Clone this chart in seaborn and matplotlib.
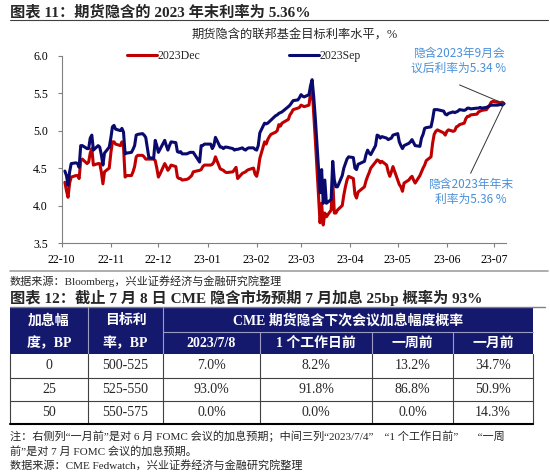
import matplotlib
matplotlib.use('Agg')
import matplotlib.pyplot as plt
import matplotlib.dates as mdates
from matplotlib.patches import Rectangle
import numpy as np
import pandas as pd
import seaborn as sns

# implied fed funds rate from futures (one value per trading day kept)
dates = [
    '2022-10-03', '2022-10-04', '2022-10-05', '2022-10-06', '2022-10-07', '2022-10-10', '2022-10-11',
    '2022-10-12', '2022-10-13', '2022-10-14', '2022-10-17', '2022-10-18', '2022-10-19', '2022-10-20',
    '2022-10-21', '2022-10-24', '2022-10-25', '2022-10-26', '2022-10-27', '2022-10-28', '2022-10-31',
    '2022-11-01', '2022-11-02', '2022-11-03', '2022-11-04', '2022-11-07', '2022-11-08', '2022-11-09',
    '2022-11-10', '2022-11-11', '2022-11-14', '2022-11-15', '2022-11-16', '2022-11-17', '2022-11-18',
    '2022-11-21', '2022-11-22', '2022-11-23', '2022-11-25', '2022-11-28', '2022-11-29', '2022-11-30',
    '2022-12-01', '2022-12-02', '2022-12-05', '2022-12-06', '2022-12-07', '2022-12-08', '2022-12-09',
    '2022-12-12', '2022-12-13', '2022-12-14', '2022-12-15', '2022-12-16', '2022-12-19', '2022-12-20',
    '2022-12-21', '2022-12-22', '2022-12-23', '2022-12-27', '2022-12-28', '2022-12-29', '2022-12-30',
    '2023-01-03', '2023-01-04', '2023-01-05', '2023-01-06', '2023-01-09', '2023-01-10', '2023-01-11',
    '2023-01-12', '2023-01-13', '2023-01-17', '2023-01-18', '2023-01-19', '2023-01-20', '2023-01-23',
    '2023-01-24', '2023-01-25', '2023-01-26', '2023-01-27', '2023-01-30', '2023-01-31',
    '2023-02-01', '2023-02-02', '2023-02-03', '2023-02-06', '2023-02-07', '2023-02-08', '2023-02-09',
    '2023-02-10', '2023-02-13', '2023-02-14', '2023-02-15', '2023-02-16', '2023-02-17', '2023-02-21',
    '2023-02-22', '2023-02-23', '2023-02-24', '2023-02-27', '2023-02-28',
    '2023-03-01', '2023-03-02', '2023-03-03', '2023-03-06', '2023-03-07', '2023-03-08', '2023-03-09',
    '2023-03-10', '2023-03-13', '2023-03-14', '2023-03-15', '2023-03-16', '2023-03-17', '2023-03-20',
    '2023-03-21', '2023-03-22', '2023-03-23', '2023-03-24', '2023-03-27', '2023-03-28', '2023-03-29',
    '2023-03-30', '2023-03-31',
    '2023-04-03', '2023-04-04', '2023-04-05', '2023-04-06', '2023-04-10', '2023-04-11', '2023-04-12',
    '2023-04-13', '2023-04-14', '2023-04-17', '2023-04-18', '2023-04-19', '2023-04-20', '2023-04-21',
    '2023-04-24', '2023-04-25', '2023-04-26', '2023-04-27', '2023-04-28',
    '2023-05-01', '2023-05-02', '2023-05-03', '2023-05-04', '2023-05-05', '2023-05-08', '2023-05-09',
    '2023-05-10', '2023-05-11', '2023-05-12', '2023-05-15', '2023-05-16', '2023-05-17', '2023-05-18',
    '2023-05-19', '2023-05-22', '2023-05-23', '2023-05-24', '2023-05-25', '2023-05-26', '2023-05-30',
    '2023-05-31',
    '2023-06-01', '2023-06-02', '2023-06-05', '2023-06-06', '2023-06-07', '2023-06-08', '2023-06-09',
    '2023-06-12', '2023-06-13', '2023-06-14', '2023-06-15', '2023-06-16', '2023-06-20', '2023-06-21',
    '2023-06-22', '2023-06-23', '2023-06-26', '2023-06-27', '2023-06-28', '2023-06-29', '2023-06-30',
    '2023-07-03', '2023-07-05', '2023-07-06', '2023-07-07',
]
dec_rate = [
    4.31, 4.20, 4.11, 4.30, 4.38, 4.40, 4.40, 4.36, 4.60, 4.62, 4.56, 4.58, 4.70, 4.76,
    4.54, 4.56, 4.56, 4.45, 4.29, 4.45, 4.50,
    4.70, 4.85, 4.85, 4.82, 4.80, 4.85, 4.78, 4.38, 4.40, 4.40, 4.45, 4.52, 4.65, 4.67,
    4.67, 4.65, 4.62, 4.62, 4.62, 4.60, 4.50,
    4.38, 4.42, 4.56, 4.52, 4.47, 4.50, 4.54, 4.52, 4.38, 4.36, 4.36, 4.34, 4.35, 4.36,
    4.38, 4.40, 4.45, 4.47, 4.48, 4.52, 4.54,
    4.54, 4.55, 4.58, 4.65, 4.49, 4.48, 4.47, 4.45, 4.44, 4.45, 4.48, 4.51, 4.36, 4.43,
    4.44, 4.45, 4.47, 4.48, 4.50, 4.42,
    4.39, 4.48, 4.63, 4.85, 4.82, 4.88, 4.92, 4.95, 4.98, 5.00, 5.08, 5.06, 5.10, 5.15,
    5.21, 5.24, 5.28, 5.30, 5.31,
    5.34, 5.33, 5.32, 5.34, 5.50, 5.57, 5.23, 4.88, 3.77, 4.03, 3.74, 3.90, 3.85, 3.94,
    4.34, 3.90, 3.90, 3.94, 4.00, 4.14, 4.25, 4.34, 4.39,
    4.36, 4.15, 4.10, 4.18, 4.25, 4.33, 4.39, 4.44, 4.50, 4.58, 4.61, 4.60, 4.57, 4.59,
    4.54, 4.45, 4.39, 4.45, 4.52,
    4.34, 4.28, 4.25, 4.19, 4.30, 4.34, 4.37, 4.39, 4.34, 4.30, 4.40, 4.45, 4.50, 4.54,
    4.60, 4.65, 4.83, 4.95, 4.99, 5.01, 4.97, 4.94,
    4.99, 5.01, 4.99, 5.00, 5.05, 5.06, 5.08, 5.10, 5.16, 5.19, 5.19, 5.21, 5.22, 5.25,
    5.26, 5.27, 5.28, 5.31, 5.34, 5.38, 5.39,
    5.38, 5.37, 5.38, 5.36,
]
sep_rate = [
    4.46, 4.40, 4.27, 4.45, 4.56, 4.57, 4.56, 4.51, 4.80, 4.80, 4.76, 4.76, 4.90, 4.94,
    4.74, 4.80, 4.78, 4.68, 4.54, 4.70, 4.78,
    4.90, 5.05, 5.07, 5.02, 5.00, 5.03, 4.98, 4.69, 4.70, 4.71, 4.75, 4.80, 4.94, 4.95,
    4.96, 4.94, 4.91, 4.64, 4.63, 4.87, 4.80,
    4.71, 4.75, 4.87, 4.80, 4.74, 4.80, 4.85, 4.84, 4.72, 4.71, 4.72, 4.69, 4.69, 4.70,
    4.71, 4.71, 4.71, 4.58, 4.80, 4.80, 4.82,
    4.82, 4.76, 4.80, 4.91, 4.78, 4.78, 4.76, 4.78, 4.78, 4.76, 4.74, 4.75, 4.75, 4.77,
    4.75, 4.74, 4.76, 4.77, 4.77, 4.75,
    4.74, 4.80, 4.97, 5.10, 5.09, 5.10, 5.12, 5.14, 5.20, 5.21, 5.23, 5.24, 5.25, 5.32,
    5.34, 5.37, 5.40, 5.41, 5.44,
    5.48, 5.46, 5.45, 5.48, 5.60, 5.68, 5.45, 5.17, 4.17, 4.48, 4.03, 4.34, 4.03, 4.08,
    4.59, 4.34, 4.25, 4.25, 4.40, 4.50, 4.56, 4.62, 4.65,
    4.64, 4.50, 4.48, 4.55, 4.59, 4.68, 4.74, 4.70, 4.68, 4.80, 4.94, 4.93, 4.90, 4.92,
    4.90, 4.88, 4.89, 4.90, 4.94,
    4.96, 4.85, 4.80, 4.76, 4.80, 4.83, 4.85, 4.88, 4.84, 4.80, 4.79, 4.90, 4.95, 5.03,
    5.04, 5.05, 5.15, 5.28, 5.28, 5.28, 5.26, 5.22,
    5.21, 5.23, 5.25, 5.24, 5.25, 5.26, 5.28, 5.27, 5.28, 5.30, 5.30, 5.29, 5.30, 5.30,
    5.31, 5.30, 5.31, 5.32, 5.33, 5.34, 5.34,
    5.34, 5.35, 5.34, 5.36,
]
assert len(dates) == len(dec_rate) == len(sep_rate)

# CME FedWatch table
tbl_hike = ['0', '25', '50']
tbl_target = ['500-525', '525-550', '550-575']
tbl_jul8 = ['7.0%', '93.0%', '0.0%']
tbl_1day = ['8.2%', '91.8%', '0.0%']
tbl_1week = ['13.2%', '86.8%', '0.0%']
tbl_1month = ['34.7%', '50.9%', '14.3%']
tbl_sub_head = ['2023/7/8', '1 个工作日前', '一周前', '一月前']

sns.set_theme(style='white')
plt.rcParams['font.family'] = ['Liberation Serif', 'Noto Sans CJK SC']
plt.rcParams['axes.unicode_minus'] = False

W, H = 550, 472
fig = plt.figure(figsize=(5.5, 4.72), dpi=100)
fig.patch.set_facecolor('white')

# overlay in pixel units for titles, notes and the table
over = fig.add_axes([0, 0, 1, 1])
over.set_xlim(0, W)
over.set_ylim(H, 0)
over.axis('off')

ax = fig.add_axes([61.7 / W, 1 - 243 / H, (505.5 - 61.7) / W, (243 - 55.7) / H])
ax.patch.set_alpha(0)

df = pd.DataFrame({'date': pd.to_datetime(dates), '2023Dec': dec_rate, '2023Sep': sep_rate})
long_df = df.melt(id_vars='date', var_name='series', value_name='rate')
sns.lineplot(data=long_df, x='date', y='rate', hue='series',
             palette={'2023Dec': '#C00000', '2023Sep': '#0A0A6E'},
             linewidth=2.2, ax=ax, legend=False)

ax.set_ylim(3.5, 6.0)
ax.set_yticks(np.arange(3.5, 6.01, 0.5))
ax.yaxis.set_major_formatter(matplotlib.ticker.FormatStrFormatter('%.1f'))
ax.set_xlim(pd.Timestamp('2022-10-01'), pd.Timestamp('2023-07-08'))
ax.xaxis.set_major_locator(mdates.MonthLocator())
ax.xaxis.set_major_formatter(mdates.DateFormatter('%y-%m'))
ax.set_xlabel('')
ax.set_ylabel('')
ax.grid(False)
for s in ['top', 'right']:
    ax.spines[s].set_visible(False)
for s in ['left', 'bottom']:
    ax.spines[s].set_color('#808080')
    ax.spines[s].set_linewidth(0.8)
ax.tick_params(axis='both', which='major', bottom=True, left=True, direction='out',
               length=3, width=0.8, color='#808080', labelsize=8.5, labelcolor='black')
ax.tick_params(axis='y', pad=7)
ax.tick_params(axis='x', pad=5)

ax.legend(handles=ax.lines[:2], labels=['2023Dec', '2023Sep'], ncol=2, loc='center',
          bbox_to_anchor=(0.411, 1.0), frameon=False, handlelength=2.5, handletextpad=0.1,
          columnspacing=7.5, fontsize=8.5, borderaxespad=0)

# callout lines to the last point
end_x = mdates.date2num(pd.Timestamp(dates[-1]))
ax.annotate('', xy=(end_x, sep_rate[-1]), xytext=(mdates.date2num(pd.Timestamp('2023-06-09')), 5.61),
            arrowprops=dict(arrowstyle='-', color='#333333', lw=0.7, shrinkA=0, shrinkB=0),
            annotation_clip=False)
ax.annotate('', xy=(end_x, dec_rate[-1]), xytext=(mdates.date2num(pd.Timestamp('2023-06-16')), 4.43),
            arrowprops=dict(arrowstyle='-', color='#333333', lw=0.7, shrinkA=0, shrinkB=0),
            annotation_clip=False)

blue_txt = '#4A8FD8'
over.text(459, 61, '隐含2023年9月会\n议后利率为5.34 %', fontsize=8.5, color=blue_txt,
          ha='center', va='center', linespacing=1.15, family=['Noto Sans CJK SC'])
over.text(471, 192, '隐含2023年年末\n利率为5.36 %', fontsize=8.5, color=blue_txt,
          ha='center', va='center', linespacing=1.15, family=['Noto Sans CJK SC'])

# titles and rules
over.text(10, 11.6, '图表 11：期货隐含的 2023 年末利率为 5.36%', fontsize=11, fontweight='bold',
          ha='left', va='center')
over.plot([10, 548], [20, 20], color='#404040', lw=0.8)
over.text(295, 36, '期货隐含的联邦基金目标利率水平，%', fontsize=8.8, ha='center', va='center')
over.plot([10, 548], [271, 271], color='#A0A0A0', lw=1.2)
over.text(10, 281, '数据来源：Bloomberg，兴业证券经济与金融研究院整理', fontsize=8, ha='left', va='center')
over.text(10, 297.5, '图表 12：截止 7 月 8 日 CME 隐含市场预期 7 月加息 25bp 概率为 93%', fontsize=11,
          fontweight='bold', ha='left', va='center')
over.plot([10, 545], [307, 307], color='#808080', lw=1.0)

# table
cols = [10, 88, 163, 260, 372, 453, 533]
top, mid, head_bot = 307, 332, 354
row_edges = [354, 377.5, 401, 424]
navy = '#15196E'
over.add_patch(Rectangle((cols[0], top), cols[-1] - cols[0], head_bot - top, color=navy, lw=0))
hl = '#9A9CC0'
for x in cols[1:3]:
    over.plot([x, x], [top, head_bot], color=hl, lw=0.8)
over.plot([cols[2], cols[-1]], [mid, mid], color=hl, lw=0.8)
for x in cols[3:-1]:
    over.plot([x, x], [mid, head_bot], color=hl, lw=0.8)

hdr = dict(color='white', fontsize=10, fontweight='bold', ha='center', va='center')
over.text((cols[0] + cols[1]) / 2, 320.5, '加息幅', **hdr)
over.text((cols[0] + cols[1]) / 2, 343.5, '度，BP', **hdr)
over.text((cols[1] + cols[2]) / 2, 320.5, '目标利', **hdr)
over.text((cols[1] + cols[2]) / 2, 343.5, '率，BP', **hdr)
over.text((cols[2] + cols[-1]) / 2, 320.5, 'CME 期货隐含下次会议加息幅度概率', **hdr)
for i, lab in enumerate(tbl_sub_head):
    over.text((cols[i + 2] + cols[i + 3]) / 2, 343.5, lab, **hdr)

body = [tbl_hike, tbl_target, tbl_jul8, tbl_1day, tbl_1week, tbl_1month]
for c, column in enumerate(body):
    for r, val in enumerate(column):
        yc = (row_edges[r] + row_edges[r + 1]) / 2
        over.text((cols[c] + cols[c + 1]) / 2, yc, val, fontsize=10, ha='center', va='center')

grid_c = '#404040'
for y in row_edges[1:-1]:
    over.plot([cols[0], cols[-1]], [y, y], color=grid_c, lw=0.8)
for x in cols:
    over.plot([x, x], [row_edges[0], row_edges[-1]], color=grid_c, lw=0.8)
over.plot([cols[0], cols[-1]], [row_edges[-1], row_edges[-1]], color='black', lw=1.5)

note_kw = dict(fontsize=8, ha='left', va='center')
over.text(10, 436.5, '注：右侧列“一月前”是对 6 月 FOMC 会议的加息预期；中间三列“2023/7/4”    “1 个工作日前”       “一周',
          **note_kw)
over.text(10, 451.5, '前”是对 7 月 FOMC 会议的加息预期。', **note_kw)
over.text(10, 465.5, '数据来源：CME Fedwatch，兴业证券经济与金融研究院整理', **note_kw)

fig.savefig('out.png', dpi=100)
